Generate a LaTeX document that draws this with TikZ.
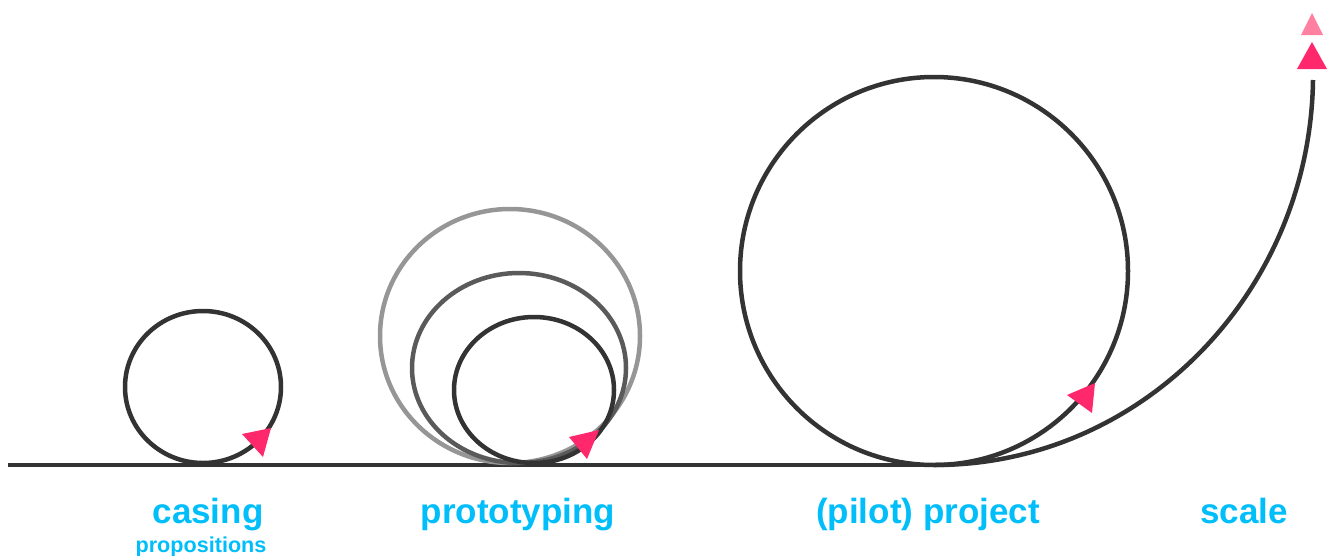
\documentclass[tikz,border=0pt]{standalone}
\usepackage{fontspec}
\setmainfont{Liberation Sans}
\definecolor{ink}{RGB}{51,51,51}
\definecolor{midgray}{RGB}{90,90,90}
\definecolor{lightgray}{RGB}{150,150,150}
\definecolor{pinkarrow}{RGB}{255,40,108}
\definecolor{lightpink}{RGB}{255,128,160}
\definecolor{labelblue}{RGB}{0,190,250}
\begin{document}
\begin{tikzpicture}[x=1pt,y=-1pt,
  track/.style={draw=ink,line width=4.5pt},
  tip/.style={fill=pinkarrow},
  lbl/.style={text=labelblue,font=\bfseries\fontsize{35}{40}\selectfont,anchor=base,inner sep=0pt},
  sublbl/.style={text=labelblue,font=\bfseries\fontsize{21.6}{24}\selectfont,anchor=base,inner sep=0pt}]
\useasboundingbox (0,0) rectangle (1333,555);
% ground line
\draw[track] (8,465) -- (935,465);
% casing circle
\draw[track] (203,387) ellipse [x radius=78,y radius=76];
\fill[tip] (242,434) -- (271,428) -- (263,457) -- cycle;
% prototyping circles
\draw[draw=lightgray,line width=4.5pt] (510,336) ellipse [x radius=130,y radius=127];
\draw[draw=midgray,line width=4.5pt] (519,368) ellipse [x radius=107,y radius=95];
\draw[track] (534,390) ellipse [x radius=80,y radius=73];
\fill[tip] (569,437) -- (599,430) -- (587,459) -- cycle;
% pilot project circle
\draw[track] (934,271) circle [radius=194];
\fill[tip] (1067,395) -- (1095,383) -- (1092,413) -- cycle;
% scale curve
\coordinate (start) at (935,465);
\coordinate (top) at (1313,80);
\draw[track] (start) .. controls (1142,465) and (1310,292) .. (top);
% top triangles
\fill[fill=lightpink] (1301,35) -- (1323,35) -- (1312,13) -- cycle;
\fill[tip] (1297,69) -- (1327,69) -- (1312,42) -- cycle;
% labels
\node[lbl] (casing) at (208,523) {casing};
\node[sublbl] (props) at (201,552) {propositions};
\node[lbl] (proto) at (518,523) {prototyping};
\node[lbl] (pilot) at (928,523) {(pilot) project};
\node[lbl] (scale) at (1244,523) {scale};
\end{tikzpicture}
\end{document}
